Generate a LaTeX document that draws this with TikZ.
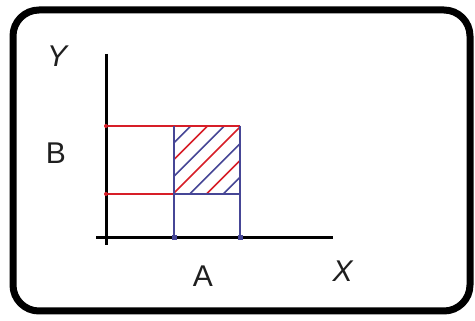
\documentclass[tikz,border=0pt]{standalone}
\usepackage{fontspec}
\setmainfont{Liberation Sans}
\usetikzlibrary{calc}
\definecolor{hred}{RGB}{215,30,40}
\definecolor{hblue}{RGB}{70,70,150}
\begin{document}
\begin{tikzpicture}[x=1pt,y=-1pt,
  lbl/.style={font=\fontsize{30}{34}\selectfont,inner sep=0pt,text=black!88},
  axis/.style={line width=3pt,black},
  redl/.style={hred,line width=1.3pt},
  bluel/.style={hblue,line width=1.2pt},
  hatchr/.style={hred,line width=1.5pt},
  hatchb/.style={hblue,line width=1.5pt}]
\useasboundingbox (0,0) rectangle (475,321);
\fill[white] (0,0) rectangle (475,321);
\draw[line width=7pt,rounded corners=26pt] (13,10) rectangle (470,311);
% coordinates
\coordinate (O) at (106,238);
\coordinate (yt) at (106,54);
\coordinate (yb) at (106,245);
\coordinate (xl) at (96,238);
\coordinate (xr) at (333,238);
\coordinate (b1) at (106,126);
\coordinate (b2) at (106,194);
\coordinate (a1) at (174,238);
\coordinate (a2) at (240,238);
\coordinate (tl) at (174,126);
\coordinate (tr) at (240,126);
\coordinate (bl) at (174,194);
\coordinate (br) at (240,194);
% hatch
\begin{scope}
\clip (tl) rectangle (br);
\foreach \k in {1,3,5,7} {
  \pgfmathsetmacro{\c}{300+16.75*\k}
  \draw[hatchb] (\c-120,120) -- (\c-200,200);
}
\foreach \k in {2,4,6} {
  \pgfmathsetmacro{\c}{300+16.75*\k}
  \draw[hatchr] (\c-120,120) -- (\c-200,200);
}
\end{scope}
% red horizontals
\draw[redl] (b1) -- (tr);
\draw[redl] (b2) -- (bl);
\draw[bluel] (bl) -- (br);
% blue verticals
\draw[bluel] (tl) -- (a1);
\draw[bluel] (tr) -- (a2);
% axes
\draw[axis] (yt) -- (yb);
\draw[axis] (xl) -- (xr);
% markers
\fill[hred] (b1) circle (2pt);
\fill[hred] (b2) circle (2pt);
\fill[hblue] ($(a1)+(-2.5,-2.5)$) rectangle ($(a1)+(2.5,2.5)$);
\fill[hblue] ($(a2)+(-2.5,-2.5)$) rectangle ($(a2)+(2.5,2.5)$);
% labels
\node[lbl] (Y) at (58,56) {\textit{Y}};
\node[lbl] (B) at (56,153) {B};
\node[lbl] (A) at (203,276) {A};
\node[lbl] (X) at (343,271) {\textit{X}};
\end{tikzpicture}
\end{document}
